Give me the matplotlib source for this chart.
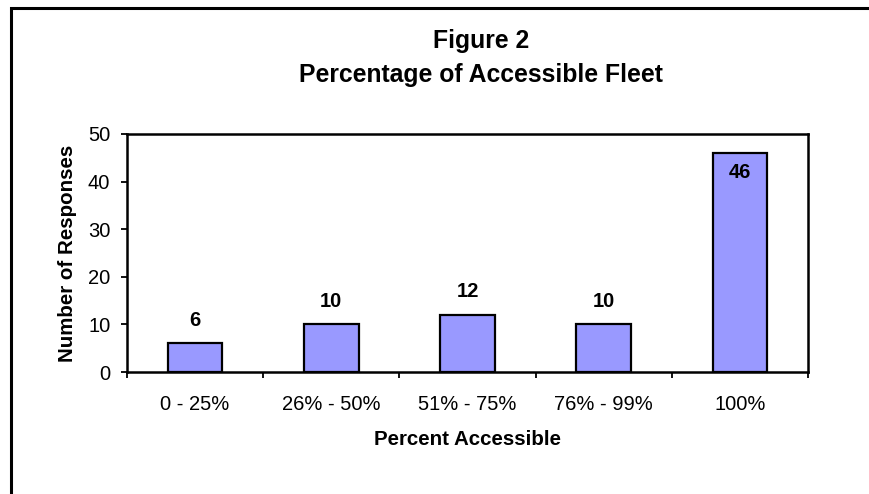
import matplotlib.pyplot as plt
from matplotlib.patches import Rectangle

plt.rcParams['font.family'] = ['Liberation Sans', 'DejaVu Sans']

categories = ["0 - 25%", "26% - 50%", "51% - 75%", "76% - 99%", "100%"]
responses = [6, 10, 12, 10, 46]

W, H = 870, 494
fig = plt.figure(figsize=(W / 100, H / 100), dpi=100)
ax = fig.add_axes([127 / W, 1 - 372 / H, 681 / W, 238 / H])

x = range(len(categories))
bars = ax.bar(x, responses, width=0.4, color="#9999FF", edgecolor="black", linewidth=1.6)

ax.set_xlim(-0.5, len(categories) - 0.5)
ax.set_ylim(0, 50)
ax.set_yticks(range(0, 51, 10))
ax.set_xticks(x)
ax.set_xticklabels(categories, fontsize=14.5)
ax.set_xticks([i - 0.5 for i in range(len(categories) + 1)], minor=True)
ax.tick_params(axis="x", which="major", length=0, pad=16.5)
ax.tick_params(axis="x", which="minor", length=4.5, width=1.3, direction="out")
ax.tick_params(axis="y", length=4, width=1.3, direction="out", labelsize=14.5, pad=8)
for s in ax.spines.values():
    s.set_linewidth(1.8)

for b, v in zip(bars, responses):
    cx = b.get_x() + b.get_width() / 2
    # Excel style: label sits above the bar unless it would leave the plot
    dy = -14 if v > 42 else 16.5
    ax.annotate(str(v), (cx, v), xytext=(0, dy), textcoords="offset points",
                ha="center", va="center", fontsize=14.5, fontweight="bold")

ax.set_xlabel("Percent Accessible", fontsize=14.8, fontweight="bold", labelpad=11.5)
ax.set_ylabel("Number of Responses", fontsize=14.8, fontweight="bold", labelpad=8)

fig.text(481 / W, 1 - 48 / H, "Figure 2", ha="center", va="baseline",
         fontsize=17.8, fontweight="bold")
fig.text(481 / W, 1 - 82 / H, "Percentage of Accessible Fleet", ha="center",
         va="baseline", fontsize=17.8, fontweight="bold")

# outer chart frame (right and bottom edges fall outside the picture)
fig.patches.append(Rectangle((11 / W, -0.1), 1.2, 1 - 8 / H + 0.1,
                             transform=fig.transFigure, fill=False,
                             edgecolor="black", linewidth=2.2))

fig.savefig("out.png", dpi=100)
